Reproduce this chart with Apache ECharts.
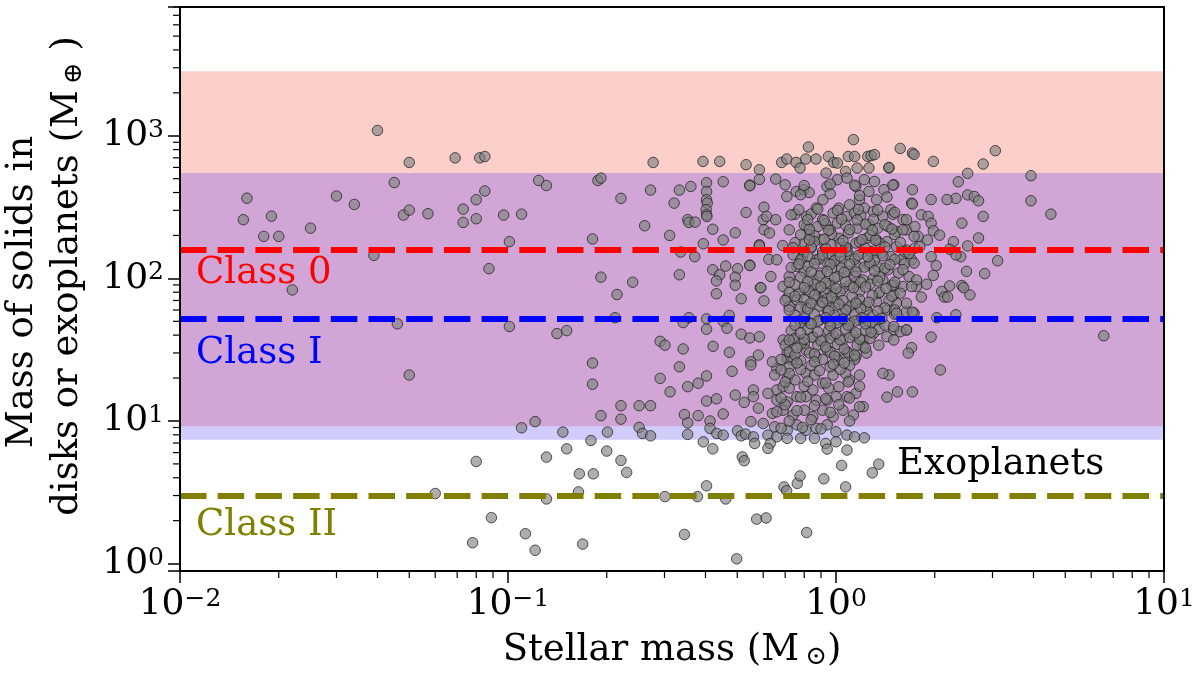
<!DOCTYPE html>
<html>
<head>
<meta charset="utf-8">
<title>Mass of solids in disks or exoplanets</title>
<script src="https://cdn.jsdelivr.net/npm/echarts@6/dist/echarts.min.js"></script>
<style>
  html, body { margin: 0; padding: 0; background: #ffffff; }
  #chart { width: 1200px; height: 675px; }
</style>
</head>
<body>
<div id="chart"></div>
<script>
// axis ranges (stellar mass in Msun, solid mass in Mearth)
var xMin = 0.01, xMax = 10;
var yMin = 0.887, yMax = 8000;

// shaded ranges
var class0Range = [548, 2830];
var classIRange = [7.38, 548];
var overlapRange = [9.2, 548];

// median levels per class
var classLevels = [158.5, 51.7, 2.98];
var classNames = ['Class 0', 'Class I', 'Class II'];

// minor tick positions
var xMinorTicks = [0.02, 0.03, 0.04, 0.05, 0.06, 0.07, 0.08, 0.09,
  0.2, 0.3, 0.4, 0.5, 0.6, 0.7, 0.8, 0.9, 2, 3, 4, 5, 6, 7, 8, 9];
var yMinorTicks = [2, 3, 4, 5, 6, 7, 8, 9, 20, 30, 40, 50, 60, 70, 80, 90,
  200, 300, 400, 500, 600, 700, 800, 900, 2000, 3000, 4000, 5000, 6000, 7000, 8000];

// sources below 0.1 Msun
var lowMassSources = [
  [0.040,1090],[0.050,650],[0.069,700],[0.082,700],[0.085,715],[0.045,470],[0.016,365],[0.0156,258],
  [0.019,273],[0.018,197],[0.020,197],[0.025,225],[0.030,378],[0.034,330],[0.048,278],[0.050,301],
  [0.057,284],[0.073,306],[0.073,247],[0.080,356],[0.080,262],[0.085,410],[0.0875,117],[0.039,145],
  [0.022,83],[0.046,48],[0.050,21],[0.097,278],[0.101,181],[0.101,46],
  [0.080,5.2],[0.060,3.1],[0.089,2.1],[0.078,1.4]
];

// sources between 0.1 and 0.6 Msun
var midMassSources = [
  [0.124,486],[0.131,448],[0.110,282],[0.141,41],[0.151,43],[0.181,189],[0.188,486],[0.192,505],
  [0.221,364],[0.192,102],[0.215,77],[0.240,94],[0.212,53],[0.277,650],[0.272,416],[0.261,234],
  [0.311,200],[0.321,337],[0.333,416],[0.361,441],[0.393,661],[0.442,661],[0.532,627],[0.584,578],
  [0.453,476],[0.546,451],[0.584,494],
  [0.403,469],[0.403,407],[0.403,356],[0.405,337],[0.402,303],[0.403,279],[0.404,272],
  [0.353,258],[0.356,247],[0.372,248],[0.421,221],[0.453,186],[0.493,209],[0.394,175],[0.336,153],
  [0.371,142],[0.333,106],[0.421,115],[0.442,106],[0.461,122],[0.501,117],[0.493,102],[0.432,96],
  [0.493,89.6],[0.432,78],[0.514,72],[0.546,124],[0.584,172],[0.588,86],[0.603,69.5],[0.356,53],
  [0.342,49],[0.403,52],[0.403,44],[0.453,50],[0.473,55],[0.465,44.7],[0.514,40.6],[0.546,38.2],
  [0.584,39],[0.291,36.2],[0.301,34],
  [0.181,25.5],[0.181,18.1],[0.291,19.9],[0.333,24],[0.342,32],[0.422,33.4],[0.473,30.3],[0.482,22.3],
  [0.312,16],[0.353,17.4],[0.380,18.4],[0.403,20.7],[0.403,13.8],[0.432,14.3],[0.493,15.2],[0.525,13.5],
  [0.192,10.9],[0.221,12.8],[0.221,10.3],[0.251,12.8],[0.272,12.8],[0.345,11.1],[0.380,10.9],[0.453,11.2],
  [0.353,9.7],[0.413,10],[0.110,8.96],[0.121,9.9],[0.147,8.36],[0.201,8.36],[0.251,9.02],[0.257,8.18],
  [0.272,7.87],[0.353,8.05],[0.413,8.87],[0.433,8.18],[0.453,7.96],[0.501,8.54],[0.514,7.87],[0.394,7.14],
  [0.421,6.38],
  [0.179,7.3],[0.151,6.38],[0.131,5.58],[0.200,6.15],[0.221,5.29],[0.230,4.36],[0.165,4.26],[0.182,4.26],
  [0.164,3.18],[0.131,2.84],[0.518,5.6],[0.525,5.26],[0.403,3.51],[0.301,2.95],[0.378,2.95],[0.461,2.84],
  [0.113,1.62],[0.121,1.24],[0.169,1.37],[0.345,1.6],[0.498,1.08],[0.573,2.05],[0.612,2.09]
];

// the dense group around one solar mass
var solarUpper = [
  [0.683,650],[0.708,687],[0.756,650],[0.809,687],[0.824,834],[0.869,687],[0.948,716],[0.984,650],
  [1.01,644],[1.13,940],[1.09,716],[1.14,716],[1.25,716],[1.28,725],[1.31,737],[1.16,594],[1.26,594],
  [1.45,594],[0.777,594],[0.933,548],[1.07,562],
  [0.546,446],[0.655,497],[0.532,290],[0.603,316],[0.600,258],[0.614,272],[0.655,258],[0.603,219],
  [0.627,208],[0.584,169],[0.546,123],[0.624,136],[0.633,103],[0.590,86],[0.688,170],[0.708,375],
  [0.757,407],[0.797,419],[0.828,400],[0.750,282],[0.814,272],[0.814,231],[0.870,311],[0.912,356],
  [0.939,441],[1.01,492],[1.08,505],[1.15,441],[1.22,492],[1.31,478],[1.40,419],[1.50,454],[1.43,372],
  [1.33,356],[1.26,407],[1.18,356],[1.10,328],[1.02,311],[0.98,287],[0.91,258],[0.88,231],[0.83,202],
  [0.80,177],[0.84,163],[0.90,186],[0.96,219],[1.01,244],[1.08,272],[1.14,287],[1.22,311],[1.30,294],
  [1.39,272],[1.47,303],[1.60,258],[1.70,337],[1.64,219],[1.53,213],[1.44,231],[1.34,225],[1.26,238],
  [1.16,225],[1.09,208],[1.02,191],[0.97,172],[0.91,154],[0.87,135],[0.94,128],[1.00,146],[1.08,163],
  [1.15,177],[1.24,191],[1.33,186],[1.43,181],[1.53,167],[1.64,158],[1.74,163],[1.70,135],[1.58,135],
  [1.47,142],[1.37,150],[1.28,154],[1.20,150],[1.11,142],[1.04,131],[0.97,118],[0.90,109],[0.85,97.5],
  [0.81,83],[0.88,85],[0.95,92],[1.01,103],[1.09,112],[1.16,121],[1.26,124],[1.34,121],[1.44,115],
  [1.55,109],[1.67,103],[1.76,87.6],[1.60,87.6],[1.50,90],[1.39,97.5],[1.30,100],[1.21,97.5],[1.13,92],
  [1.05,85],[0.98,78.7],[0.91,74.5],[0.76,121],[0.72,103],[0.69,87.6],[0.77,78.7],[0.66,135],[0.80,112],
  [0.74,146],[0.79,139]
];

var solarLower = [
  [0.76,70.6],[0.81,63.4],[0.87,70.6],[0.94,60],[1.00,68.7],[1.08,60],[1.15,67],[1.24,60],[1.33,68.7],
  [1.43,60],[1.53,67],[1.64,58.5],[1.73,57],[1.35,78.7],[1.50,76.6],[0.71,72.6],[0.72,63.4],[0.78,51],
  [0.83,48.4],[0.89,51],[0.96,48.4],[1.02,51],[1.10,48.4],[1.18,51],[1.27,48.4],[1.35,51],[1.50,43.5],
  [1.64,43.5],[1.57,42.3],[1.43,39],[1.30,41],[1.21,37],[1.13,40],[1.05,37],[0.98,40],[0.91,37],[0.85,39],
  [0.80,35],[0.74,37],[0.69,37],[0.58,29],[0.55,26],[0.55,24.7],[0.66,23.4],[0.71,27.5],[0.71,30.6],
  [0.74,26.8],[0.81,31.5],[0.87,28.2],[0.94,31.5],[1.00,28.2],[1.08,30.6],[1.15,28.2],[1.24,29.9],
  [1.21,33.2],[0.64,26],[0.66,16.5],[0.71,19.9],[0.69,17.4],[0.75,19.4],[0.81,21.6],[0.85,16.5],
  [0.91,18.4],[0.98,21],[1.02,17.4],[1.10,19.4],[1.15,15.6],[1.21,12.6],[1.08,14.8],[1.00,14.8],[0.94,14],
  [0.87,14],[0.81,14.8],[0.76,14.8],[0.71,13.6],[0.66,14],[0.62,15.6],[0.56,16.5],[0.56,14.8],[0.58,12.3],
  [0.64,11.3],[0.69,11.9],[0.74,11],[0.80,11.9],[0.85,10.7],[0.91,11.9],[0.98,10.7],[1.05,11.9],[1.13,11],
  [1.18,12.6],[0.55,9.9],[0.60,9.6],[0.65,9.1],[0.71,8.6],[0.76,9.4],[0.81,8.6],[0.87,8.9],[0.94,9.4],
  [1.00,8.4],[1.08,7.96],[1.14,7.74],[1.22,7.62],[0.53,8.1],[0.56,7.74],[0.62,7.96],[0.66,7.74],[0.71,7.55],
  [0.78,7.55],[0.86,7.55],[0.93,6.96],[0.94,6.35],[1.00,7.14],[1.08,6.25],[0.63,6.96],[0.62,6.42],[0.565,6.96],
  [0.814,1.65],[0.694,3.45],[0.707,3.24],[0.762,3.65],[0.777,4.12],[0.918,3.93],[1.07,3.45],[1.04,4.88],
  [1.29,4.33],[1.35,4.98]
];

var solarCore = [
  [0.78,386],[0.96,392],[1.18,380],
  [0.73,279],[0.84,283],[1.19,276],[1.49,281],
  [0.80,238],[0.93,242],[1.07,236],[1.23,240],[1.41,238],
  [0.78,202],[0.86,199],[0.97,204],[1.27,200],[1.51,203],
  [0.75,178],[0.86,181],[1.03,176],[1.18,180],[1.36,177],[1.57,179],
  [0.80,153],[0.95,150],[1.08,155],[1.32,152],[1.62,154],
  [0.78,135],[0.89,137],[0.99,133],[1.14,136],[1.31,134],[1.51,136],
  [0.73,119],[0.82,121],[1.04,118],[1.22,120],[1.41,118],
  [0.78,102],[0.89,104],[0.99,101],[1.14,103],[1.36,102],
  [0.75,90],[0.86,91],[0.96,89],[1.10,90],[1.27,91],[1.48,89],
  [0.72,80],[0.83,81],[0.93,79],[1.03,80],[1.18,81],[1.36,80],
  [0.70,70],[0.80,71],[0.94,72],[1.05,70],[1.18,71],[1.45,70],
  [0.78,63],[0.89,64],[0.99,62],[1.10,63],[1.23,64],[1.41,62],
  [0.75,55],[0.86,56],[0.99,55],[1.14,56],[1.30,55],[1.51,56],
  [0.78,49],[0.88,50],[1.01,49],[1.14,50],[1.29,49],
  [0.73,43],[0.82,44],[0.95,43],[1.07,44],[1.23,43],[1.35,44],
  [0.75,38],[0.85,38.5],[0.96,38],[1.10,38.5],[1.27,38],
  [0.70,34],[0.78,34.5],[0.88,34],[1.01,34.5],[1.16,34],[1.35,34],
  [0.72,30.5],[0.83,30],[0.96,30.5],[1.09,30],
  [0.68,27],[0.78,26.5],[0.91,27],[1.02,26.5],[1.14,27],
  [0.72,24],[0.84,24.5],[0.96,24],[1.10,24.5],
  [0.65,21],[0.72,21.5],[0.86,21],[1.07,21.5],[1.18,21],
  [0.72,17],[0.80,17.5],[0.95,17],[1.18,17.5],
  [0.70,13],[0.86,12.8],[1.02,13],
  [0.72,10],[0.84,10.2],[1.10,10]
];

// extra sources in the densest part of the group
var solarDense = [
  [0.70,453],[0.80,448],[0.96,458],[1.14,450],
  [0.77,303],[0.88,306],[1.01,300],[1.17,304],[1.34,301],
  [0.72,219],[0.83,221],[0.95,217],[1.10,220],[1.29,218],[1.48,222],
  [0.74,164],[0.84,166],[0.93,162],[1.07,165],[1.23,163],[1.41,166],
  [0.77,126],[0.86,127],[0.96,125],[1.10,126],[1.27,128],[1.46,125],[1.62,127],
  [0.72,94],[0.82,95],[0.93,93],[1.07,95],[1.19,94],[1.34,96],[1.51,94],
  [0.75,75],[0.86,76],[0.97,74],[1.12,75],[1.29,76],[1.48,75],
  [0.72,60],[0.82,61],[0.95,59],[1.07,60],[1.19,61],[1.34,59],[1.51,60],
  [0.75,47],[0.84,48],[0.96,46.5],[1.09,47],[1.23,48],[1.41,47],
  [0.72,37],[0.80,37.5],[0.90,36.5],[1.03,37],[1.18,37.5],
  [0.75,29],[0.86,29.5],[0.99,28.5],[1.14,29],
  [0.68,22.8],[0.78,23],[0.89,22.5],[1.03,23],
  [0.70,18.8],[0.82,19],[0.93,18.5],[1.09,18.8],
  [0.68,14.5],[0.78,14.7],[0.93,14.3],[1.10,14.5],
  [0.66,11.6],[0.76,11.8],[0.96,11.5],
  [0.68,8.9],[0.79,9.0],[0.90,8.8]
];

// innermost part of the group
var solarInner = [
  [0.82,258],[0.92,255],[1.04,260],[1.16,257],[1.30,259],
  [0.83,186],[0.92,188],[1.05,184],[1.20,187],[1.32,185],
  [0.82,144],[0.91,146],[1.03,143],[1.17,145],[1.25,142],[1.39,144],
  [0.84,111],[0.94,112],[1.06,110],[1.15,111],[1.31,113],
  [0.80,86],[0.90,87],[1.00,85],[1.13,86],[1.23,87],[1.42,85],
  [0.84,67],[0.91,68],[1.02,66],[1.15,67],[1.26,68],
  [0.80,52.7],[0.93,53],[1.05,52],[1.20,53],[1.38,52.5],
  [0.78,41.4],[0.88,42],[1.00,41],[1.15,41.5],[1.28,42],
  [0.76,32.5],[0.93,33],[1.06,32],[1.23,32.5],
  [0.76,25.5],[0.86,26],[0.98,25],[1.06,25.5]
];

// sources above ~1.4 Msun
var highMassSources = [
  [1.57,815],[1.71,757],[1.73,740],[1.98,661],[1.45,600],[2.81,634],[3.06,786],[2.52,545],[2.36,476],
  [3.93,525],[3.93,350],[4.52,282],[6.55,39.6],[2.52,385],[2.64,375],[2.72,350],[2.32,364],[2.18,357],
  [1.95,357],[2.81,272],[2.42,244],[2.72,192],[2.52,169],[3.11,133],[2.84,108],[2.50,112],[2.40,142],
  [2.32,146],[2.28,181],[2.22,160],[2.42,89],[2.45,86],[2.56,76.6],[2.22,88.5],[2.10,81],[2.14,74],
  [2.19,74],[2.03,53],[2.32,55.5],[1.95,38.8],[2.08,22.8],[1.70,32.7],[1.66,29.9],[1.45,21],[1.39,21.6],
  [1.54,16],[1.71,16],[1.43,14.7],[1.71,419],[1.71,332],[1.49,451],[1.51,290],[1.82,279],[1.91,272],
  [1.95,244],[1.98,216],[2.07,201],[1.90,186],[1.95,142],[2.02,123],[1.98,105],[1.89,91],[1.82,74],
  [1.71,58],[1.64,43.5],[1.76,97.5],[1.78,197],[1.80,167],[1.74,231],[1.64,258],[1.60,219],[1.73,197],
  [1.67,150],[1.73,128],[1.60,115],[1.70,87.6],[1.57,78.7],[1.64,67],[1.53,57],[1.50,45.9],[1.50,37]
];

var FONT = 'DejaVu Serif';
var chart = echarts.init(document.getElementById('chart'));

function powLabel(v) {
  var e = Math.round(Math.log10(v));
  if (Math.abs(Math.log10(v) - e) > 1e-6) return '';
  return '10{sup|' + (e < 0 ? '\u2212' + (-e) : e) + '}';
}

var labelStyle = {
  fontFamily: FONT, fontSize: 36, color: '#000',
  formatter: powLabel,
  rich: { sup: { fontFamily: FONT, fontSize: 25, verticalAlign: 'top', color: '#000' } }
};

var allPoints = lowMassSources.concat(midMassSources, solarUpper, solarLower, solarCore,
  solarDense, solarInner, highMassSources);

function minorTick(dir) {
  return function (params, api) {
    var p = api.coord([api.value(0), api.value(1)]);
    var shape = dir === 'x'
      ? { x1: p[0], y1: p[1], x2: p[0], y2: p[1] + 7 }
      : { x1: p[0], y1: p[1], x2: p[0] - 7, y2: p[1] };
    return { type: 'line', shape: shape, style: { stroke: '#000', lineWidth: 1.2 } };
  };
}

var lineColors = ['#ff0000', '#0000ff', '#808000'];

var option = {
  animation: false,
  backgroundColor: '#ffffff',
  grid: { left: 180, right: 36, top: 7, bottom: 104 },
  xAxis: [{
    type: 'log', min: xMin, max: xMax, z: 10,
    axisLine: { show: true, lineStyle: { color: '#000', width: 2 } },
    axisTick: { show: true, inside: false, length: 12, lineStyle: { color: '#000', width: 1.5 } },
    splitLine: { show: false },
    axisLabel: Object.assign({ margin: 16 }, labelStyle)
  }, {
    type: 'log', min: xMin, max: xMax, position: 'top', z: 10,
    axisLine: { show: true, onZero: false, lineStyle: { color: '#000', width: 2 } },
    axisTick: { show: false }, axisLabel: { show: false }, splitLine: { show: false }
  }],
  yAxis: [{
    type: 'log', min: yMin, max: yMax, z: 10,
    axisLine: { show: true, lineStyle: { color: '#000', width: 2 } },
    axisTick: { show: true, inside: false, length: 12, lineStyle: { color: '#000', width: 1.5 } },
    splitLine: { show: false },
    axisLabel: Object.assign({ margin: 16 }, labelStyle)
  }, {
    type: 'log', min: yMin, max: yMax, position: 'right', z: 10,
    axisLine: { show: true, onZero: false, lineStyle: { color: '#000', width: 2 } },
    axisTick: { show: false }, axisLabel: { show: false }, splitLine: { show: false }
  }],
  series: [
    {
      type: 'line', data: [], silent: true, z: 1,
      markArea: {
        silent: true,
        label: { show: false },
        data: [
          [{ yAxis: class0Range[0], itemStyle: { color: '#fccfcb' } }, { yAxis: class0Range[1] }],
          [{ yAxis: classIRange[0], itemStyle: { color: '#d0ccfc' } }, { yAxis: classIRange[1] }],
          [{ yAxis: overlapRange[0], itemStyle: { color: '#d1a6d6' } }, { yAxis: overlapRange[1] }]
        ]
      }
    },
    {
      type: 'line', data: [], silent: true, z: 2,
      markLine: {
        silent: true, symbol: 'none',
        label: { show: false },
        data: classLevels.map(function (v, i) {
          return { yAxis: v, lineStyle: { color: lineColors[i], width: 6, type: [26.5, 11.2], opacity: 1 } };
        })
      }
    },
    {
      type: 'scatter', data: allPoints, z: 3, symbolSize: 10.5,
      itemStyle: { color: 'rgba(128,128,128,0.8)', borderColor: 'rgba(25,25,25,0.9)', borderWidth: 1 }
    },
    {
      type: 'custom', silent: true, z: 4, clip: false,
      data: xMinorTicks.map(function (v) { return [v, yMin]; }),
      renderItem: minorTick('x')
    },
    {
      type: 'custom', silent: true, z: 4, clip: false,
      data: yMinorTicks.map(function (v) { return [xMin, v]; }),
      renderItem: minorTick('y')
    }
  ],
  graphic: [
    { type: 'text', left: 196, top: 255, z: 20,
      style: { text: classNames[0], fill: lineColors[0], font: '37px "DejaVu Serif"' } },
    { type: 'text', left: 196, top: 335, z: 20,
      style: { text: classNames[1], fill: lineColors[1], font: '37px "DejaVu Serif"' } },
    { type: 'text', left: 196, top: 507, z: 20,
      style: { text: classNames[2], fill: lineColors[2], font: '37px "DejaVu Serif"' } },
    { type: 'text', left: 897, top: 446, z: 20,
      style: { text: 'Exoplanets', fill: '#000', font: '37px "DejaVu Serif"' } },
    { type: 'text', x: 672, y: 650, z: 20,
      style: {
        text: 'Stellar mass (M{sub|\u2299})', fill: '#000', align: 'center', verticalAlign: 'middle',
        font: '37px "DejaVu Serif"',
        rich: { sub: { fontFamily: FONT, fontSize: 26, verticalAlign: 'bottom', padding: [14, 0, 0, 6] } }
      } },
    { type: 'text', x: 22, y: 292, rotation: Math.PI / 2, z: 20,
      style: { text: 'Mass of solids in', fill: '#000', align: 'center', verticalAlign: 'middle',
        font: '37px "DejaVu Serif"' } },
    { type: 'text', x: 67, y: 276, rotation: Math.PI / 2, z: 20,
      style: {
        text: 'disks or exoplanets (M{sub|\u2295} )', fill: '#000', align: 'center', verticalAlign: 'middle',
        font: '37px "DejaVu Serif"',
        rich: { sub: { fontFamily: FONT, fontSize: 26, verticalAlign: 'bottom', padding: [14, 0, 0, 6] } }
      } }
  ]
};

chart.setOption(option);
</script>
</body>
</html>
